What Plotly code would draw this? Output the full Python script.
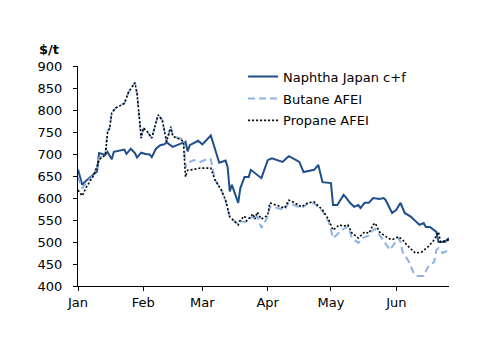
import plotly.graph_objects as go

naphtha_dates = ["2011-01-01","2011-01-03","2011-01-05","2011-01-08","2011-01-10","2011-01-11","2011-01-14","2011-01-15","2011-01-17","2011-01-18","2011-01-21","2011-01-23","2011-01-24","2011-01-26","2011-01-28","2011-01-29","2011-01-31","2011-02-02","2011-02-04","2011-02-05","2011-02-07","2011-02-09","2011-02-11","2011-02-12","2011-02-13","2011-02-15","2011-02-17","2011-02-20","2011-02-21","2011-02-22","2011-02-23","2011-02-27","2011-03-01","2011-03-05","2011-03-07","2011-03-09","2011-03-12","2011-03-13","2011-03-14","2011-03-15","2011-03-18","2011-03-19","2011-03-21","2011-03-23","2011-03-24","2011-03-26","2011-03-29","2011-04-01","2011-04-03","2011-04-08","2011-04-11","2011-04-13","2011-04-16","2011-04-18","2011-04-23","2011-04-25","2011-04-27","2011-05-01","2011-05-02","2011-05-04","2011-05-07","2011-05-08","2011-05-10","2011-05-12","2011-05-14","2011-05-15","2011-05-17","2011-05-19","2011-05-21","2011-05-24","2011-05-26","2011-05-27","2011-05-30","2011-06-01","2011-06-03","2011-06-05","2011-06-08","2011-06-10","2011-06-12","2011-06-14","2011-06-15","2011-06-17","2011-06-20","2011-06-21","2011-06-24","2011-06-26"]
naphtha_values = [665,630,640,652,660,702,698,705,688,705,708,710,700,712,702,692,703,700,699,693,712,720,722,727,723,716,720,727,728,706,720,730,722,742,710,680,685,670,615,630,589,622,648,648,664,657,645,686,690,682,695,690,682,659,664,675,636,634,584,584,607,602,589,580,584,577,589,589,600,598,600,595,566,573,589,566,557,548,539,543,534,534,523,500,500,509]

propane_dates = ["2011-01-01","2011-01-03","2011-01-05","2011-01-08","2011-01-10","2011-01-11","2011-01-14","2011-01-15","2011-01-16","2011-01-17","2011-01-19","2011-01-23","2011-01-25","2011-01-28","2011-01-29","2011-01-31","2011-02-01","2011-02-03","2011-02-05","2011-02-08","2011-02-10","2011-02-12","2011-02-14","2011-02-15","2011-02-19","2011-02-20","2011-02-21","2011-02-22","2011-02-25","2011-02-28","2011-03-05","2011-03-07","2011-03-10","2011-03-12","2011-03-14","2011-03-18","2011-03-19","2011-03-21","2011-03-22","2011-03-25","2011-03-26","2011-03-27","2011-03-29","2011-04-01","2011-04-02","2011-04-05","2011-04-09","2011-04-11","2011-04-13","2011-04-17","2011-04-20","2011-04-23","2011-04-27","2011-04-30","2011-05-02","2011-05-05","2011-05-07","2011-05-09","2011-05-11","2011-05-14","2011-05-17","2011-05-19","2011-05-21","2011-05-22","2011-05-24","2011-05-28","2011-05-30","2011-06-02","2011-06-04","2011-06-06","2011-06-10","2011-06-13","2011-06-16","2011-06-19","2011-06-21","2011-06-22","2011-06-26"]
propane_values = [618,605,625,648,670,687,698,748,759,793,805,815,841,862,838,736,759,750,736,789,777,728,762,740,732,728,648,663,665,668,668,641,618,595,557,539,550,559,548,564,552,568,552,561,589,584,577,595,591,580,589,591,573,550,527,539,536,539,520,509,523,520,539,543,523,509,505,512,505,493,475,477,489,505,523,500,505]

butane_dates = ["2011-01-01","2011-01-03","2011-01-05","2011-01-08","2011-01-10","2011-01-11","2011-01-14","2011-01-15","2011-01-16","2011-01-17","2011-01-19","2011-01-23","2011-01-25","2011-01-28","2011-01-29","2011-01-31","2011-02-01","2011-02-03","2011-02-05","2011-02-08","2011-02-10","2011-02-12","2011-02-14","2011-02-15","2011-02-19","2011-02-20","2011-02-21","2011-02-22","2011-02-25","2011-02-28","2011-03-04","2011-03-05","2011-03-07","2011-03-10","2011-03-12","2011-03-14","2011-03-18","2011-03-19","2011-03-21","2011-03-22","2011-03-25","2011-03-26","2011-03-27","2011-03-29","2011-04-01","2011-04-02","2011-04-05","2011-04-09","2011-04-11","2011-04-13","2011-04-17","2011-04-20","2011-04-23","2011-04-27","2011-04-30","2011-05-02","2011-05-05","2011-05-07","2011-05-09","2011-05-11","2011-05-14","2011-05-16","2011-05-19","2011-05-21","2011-05-22","2011-05-24","2011-05-29","2011-06-02","2011-06-03","2011-06-04","2011-06-07","2011-06-09","2011-06-11","2011-06-14","2011-06-16","2011-06-19","2011-06-20","2011-06-21","2011-06-23","2011-06-26"]
butane_values = [648,622,635,650,670,690,700,752,758,795,805,815,841,862,838,736,759,750,736,789,777,728,762,740,735,736,670,680,686,682,690,688,641,618,595,557,540,548,545,548,558,550,560,532,558,580,578,573,590,585,577,587,588,570,545,509,523,530,535,509,498,509,515,527,530,516,482,509,500,477,455,432,423,423,443,455,482,486,475,482]

y_ticks = [400, 450, 500, 550, 600, 650, 700, 750, 800, 850, 900]
series_names = ["Naphtha Japan c+f", "Butane AFEI", "Propane AFEI"]

FONT = "DejaVu Sans"

fig = go.Figure()
fig.add_trace(go.Scatter(x=naphtha_dates, y=naphtha_values, mode="lines", name=series_names[0],
                         line=dict(color="#1F4E8A", width=2), legendgroup="a"))
fig.add_trace(go.Scatter(x=butane_dates, y=butane_values, mode="lines", name=series_names[1],
                         line=dict(color="#8DB3E2", width=2, dash="7px,4px"), legendgroup="b"))
fig.add_trace(go.Scatter(x=propane_dates, y=propane_values, mode="lines", name=series_names[2],
                         line=dict(color="#000000", width=1.6, dash="2px,2px"), legendgroup="c"))

fig.update_layout(
    width=500, height=353,
    margin=dict(l=78, r=51, t=66, b=67),
    paper_bgcolor="white", plot_bgcolor="white",
    font=dict(family=FONT, size=13, color="#000000"),
    showlegend=True,
    legend=dict(x=0.445, xanchor="left", y=1.02, yanchor="top",
                bgcolor="rgba(0,0,0,0)", font=dict(family=FONT, size=13, color="#000000"),
                tracegroupgap=2),
    xaxis=dict(
        type="date",
        range=["2011-01-01", "2011-06-26"],
        dtick="M1", tick0="2011-01-01", tickformat="%b",
        showgrid=False, zeroline=False,
        showline=True, linecolor="#000000", linewidth=1,
        ticks="outside", ticklen=4, tickcolor="#000000",
        tickfont=dict(family=FONT, size=13, color="#000000"),
    ),
    yaxis=dict(
        range=[400, 900], tickvals=y_ticks,
        showgrid=False, zeroline=False,
        showline=True, linecolor="#000000", linewidth=1,
        ticks="outside", ticklen=4, tickcolor="#000000",
        ticklabelstandoff=8,
        tickfont=dict(family=FONT, size=13, color="#000000"),
    ),
    annotations=[dict(text="<b>$/t</b>", xref="paper", yref="paper", x=-0.11, y=1.077,
                      xanchor="left", yanchor="middle", showarrow=False,
                      font=dict(family=FONT, size=13, color="#000000"))],
)

fig.write_html("out.html")
